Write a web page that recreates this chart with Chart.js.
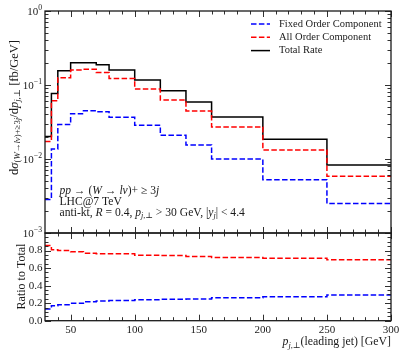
<!DOCTYPE html>
<html><head><meta charset="utf-8">
<script src="https://cdn.jsdelivr.net/npm/chart.js@4.4.1/dist/chart.umd.min.js"></script>
<style>
html,body{margin:0;padding:0;background:#fff;}
#wrap{position:relative;width:407px;height:356px;overflow:hidden;background:#fff;}
canvas{position:absolute;left:0;}
</style></head><body>
<div id="wrap">
<canvas id="top" width="407" height="250" style="top:0"></canvas>
<canvas id="bot" width="407" height="143" style="top:213px"></canvas>
</div>
<script>
// ---------------- data ----------------
const binEdges   = [30,35,40,50,60,70,80,100,120,140,160,200,250,300];
const fixedOrder = [0.00283,0.0137,0.0292,0.0408,0.0450,0.0436,0.0366,0.0285,0.0209,0.0155,0.0100,0.00525,0.0025];
const allOrder   = [0.0173,0.0612,0.125,0.160,0.163,0.147,0.122,0.0883,0.0627,0.0445,0.0271,0.0132,0.00583];
const totalRate  = [0.0202,0.0765,0.156,0.200,0.200,0.188,0.160,0.117,0.0838,0.059,0.037,0.0185,0.0083];
const ratioFixed = [0.133,0.171,0.183,0.198,0.217,0.225,0.229,0.240,0.244,0.248,0.263,0.274,0.293];
const ratioAll   = [0.857,0.810,0.800,0.785,0.770,0.762,0.762,0.747,0.743,0.731,0.720,0.713,0.695];
const seriesNames = ['Fixed Order Component','All Order Component','Total Rate'];
const xMajorTicks = [50,100,150,200,250,300];
const logTicks = [0.001,0.01,0.1,1];
const ratioTicks = [0,0.2,0.4,0.6,0.8];

const FONT = '"Liberation Serif", "DejaVu Serif", serif';
const TXT = '#1a1a1a';
const BLUE = '#0000ff', RED = '#ff0000', BLACK = '#000000';

function steps(vals){
  return binEdges.map((e,i)=>({x:e, y: vals[Math.min(i, vals.length-1)]}));
}

// ---------- rich text helpers ----------
function segFont(s,size){
  const sz = (s.s||s.u) ? size*0.7 : size;
  return (s.i?'italic ':'') + sz.toFixed(2) + 'px ' + FONT;
}
function richWidth(ctx,segs,size){
  let w=0; for(const s of segs){ctx.font=segFont(s,size); w+=ctx.measureText(s.t).width;} return w;
}
function fitSize(ctx,segs,target,cap){ return Math.min(cap||13, Math.max(9, 11*target/richWidth(ctx,segs,11))); }
function drawRich(ctx,segs,x,y,size){
  let cx=x;
  ctx.textBaseline='alphabetic'; ctx.textAlign='left';
  for(const s of segs){
    ctx.font=segFont(s,size);
    const dy = s.s ? size*0.22 : (s.u ? -size*0.42 : 0);
    ctx.fillText(s.t,cx,y+dy);
    cx+=ctx.measureText(s.t).width;
  }
  return cx-x;
}

// --------- frame + inward ticks ----------
function frameTicks(cfg){
  return {id:'frameTicks', afterDatasetsDraw(chart){
    const ctx=chart.ctx, a=chart.chartArea, xs=chart.scales.x, ys=chart.scales.y;
    ctx.save(); ctx.strokeStyle=TXT; ctx.lineWidth=0.9;
    ctx.beginPath();
    const addX=(v,len)=>{const p=Math.round(xs.getPixelForValue(v))+0.5;
      ctx.moveTo(p,a.bottom); ctx.lineTo(p,a.bottom-len); ctx.moveTo(p,a.top); ctx.lineTo(p,a.top+len);};
    const addY=(v,len)=>{const p=Math.round(ys.getPixelForValue(v))+0.5;
      ctx.moveTo(a.left,p); ctx.lineTo(a.left+len,p); ctx.moveTo(a.right,p); ctx.lineTo(a.right-len,p);};
    cfg.xMajor.forEach(v=>addX(v,6)); cfg.xMinor.forEach(v=>addX(v,3.5));
    cfg.yMajor.forEach(v=>addY(v,6)); cfg.yMinor.forEach(v=>addY(v,3.5));
    ctx.stroke();
    ctx.lineWidth=1.3; ctx.strokeRect(a.left,a.top,a.width,a.height);
    ctx.restore();
  }};
}

const xMinorTicks=[]; for(let v=40; v<300; v+=10){ if(!xMajorTicks.includes(v)) xMinorTicks.push(v); }
const logMinor=[]; [-3,-2,-1].forEach(d=>{for(let m=2;m<=9;m++) logMinor.push(m*Math.pow(10,d));});
const ratioMajor=[0,0.2,0.4,0.6,0.8,1.0];
const ratioMinor=[]; for(let k=1;k<20;k++){ if(k%4) ratioMinor.push(k*0.05); }

// ---------- top chart decorations ----------
const yTitleTop=[{t:'d'},{t:'σ',i:1},{t:'(',s:1},{t:'W',s:1,i:1},{t:'→',s:1},{t:'lν',s:1,i:1},{t:')+≥3',s:1},{t:'j',s:1,i:1},
  {t:'/d'},{t:'p',i:1},{t:'j',s:1,i:1},{t:',⊥',s:1},{t:' [fb/GeV]'}];
const annot=[
  [{t:'pp',i:1},{t:' → ('},{t:'W',i:1},{t:' → '},{t:'lν',i:1},{t:')+ ≥ 3'},{t:'j',i:1}],
  [{t:'LHC@7 TeV'}],
  [{t:'anti-kt, '},{t:'R',i:1},{t:' = 0.4, '},{t:'p',i:1},{t:'j',i:1,s:1},{t:',⊥',s:1},{t:' > 30 GeV, |'},{t:'y',i:1},{t:'j',i:1,s:1},{t:'| < 4.4'}]
];
const topDeco={id:'topDeco', afterDraw(chart){
  const ctx=chart.ctx, ys=chart.scales.y, a=chart.chartArea;
  ctx.save(); ctx.fillStyle=TXT;
  // log tick labels
  ys.ticks.forEach(t=>{
    const e=Math.round(Math.log10(t.value));
    const segs=[{t:'10'},{t:(e<0?'−':'')+Math.abs(e),u:1}];
    const w=richWidth(ctx,segs,11);
    drawRich(ctx,segs,a.left-3-w,ys.getPixelForValue(t.value)+3.8,11);
  });
  // y title
  ctx.save();
  const ts=fitSize(ctx,yTitleTop,191,12.5);
  const w=richWidth(ctx,yTitleTop,ts);
  ctx.translate(17.5,107.5); ctx.rotate(-Math.PI/2);
  drawRich(ctx,yTitleTop,-w/2,0,ts);
  ctx.restore();
  // annotation
  const as=fitSize(ctx,annot[2],197,11.6);
  annot.forEach((l,i)=>drawRich(ctx,l,59.5,193.8+i*11,as));
  // legend
  chart.data.datasets.forEach((ds,i)=>{
    const y=24+i*13.3;
    ctx.save(); ctx.strokeStyle=ds.borderColor; ctx.lineWidth=ds.borderWidth; ctx.setLineDash(ds.borderDash||[]);
    ctx.beginPath(); ctx.moveTo(251,y); ctx.lineTo(270,y); ctx.stroke(); ctx.restore();
    ctx.font='10.5px '+FONT; ctx.textBaseline='middle'; ctx.textAlign='left';
    ctx.fillText(ds.label,279,y);
  });
  ctx.restore();
}};

const dash=[5.5,2.4];
new Chart(document.getElementById('top'),{
  type:'line',
  data:{datasets:[
    {label:seriesNames[0],data:steps(fixedOrder),borderColor:BLUE,borderWidth:1.5,borderDash:dash,stepped:'before',pointRadius:0,fill:false},
    {label:seriesNames[1],data:steps(allOrder),borderColor:RED,borderWidth:1.5,borderDash:dash,stepped:'before',pointRadius:0,fill:false},
    {label:seriesNames[2],data:steps(totalRate),borderColor:BLACK,borderWidth:1.5,stepped:'before',pointRadius:0,fill:false}
  ]},
  options:{responsive:false,animation:false,events:[],
    layout:{padding:{top:11,right:16,left:0,bottom:0}},
    plugins:{legend:{display:false},tooltip:{enabled:false}},
    scales:{
      x:{type:'linear',min:30,max:300,grid:{display:false,drawTicks:false},border:{display:false},ticks:{display:false},afterFit(s){s.height=17;}},
      y:{type:'logarithmic',min:0.001,max:1,grid:{display:false,drawTicks:false},border:{display:false},ticks:{display:false},
         afterBuildTicks(s){s.ticks=logTicks.map(v=>({value:v}));},afterFit(s){s.width=45;}}
    }
  },
  plugins:[frameTicks({xMajor:xMajorTicks,xMinor:xMinorTicks,yMajor:logTicks,yMinor:logMinor}),topDeco]
});

// ---------- bottom chart ----------
const xTitle=[{t:'p',i:1},{t:'j',i:1,s:1},{t:',⊥',s:1},{t:'(leading jet) [GeV]'}];
const botDeco={id:'botDeco', afterDraw(chart){
  const ctx=chart.ctx;
  ctx.save(); ctx.fillStyle=TXT;
  const xs=fitSize(ctx,xTitle,110,11.8);
  const w=richWidth(ctx,xTitle,xs);
  drawRich(ctx,xTitle,391-w,132,xs);
  ctx.font='12px '+FONT; ctx.textAlign='center'; ctx.textBaseline='alphabetic';
  ctx.translate(24.5,276.5-213); ctx.rotate(-Math.PI/2);
  ctx.fillText('Ratio to Total',0,0);
  ctx.restore();
}};
new Chart(document.getElementById('bot'),{
  type:'line',
  data:{datasets:[
    {label:seriesNames[0],data:steps(ratioFixed),borderColor:BLUE,borderWidth:1.5,borderDash:dash,stepped:'before',pointRadius:0,fill:false},
    {label:seriesNames[1],data:steps(ratioAll),borderColor:RED,borderWidth:1.5,borderDash:dash,stepped:'before',pointRadius:0,fill:false}
  ]},
  options:{responsive:false,animation:false,events:[],
    layout:{padding:{top:20,right:16,left:0,bottom:0}},
    plugins:{legend:{display:false},tooltip:{enabled:false}},
    scales:{
      x:{type:'linear',min:30,max:300,grid:{display:false,drawTicks:false},border:{display:false},
         ticks:{font:{family:FONT,size:11},color:TXT,padding:3,maxRotation:0,autoSkip:false},
         afterBuildTicks(s){s.ticks=xMajorTicks.map(v=>({value:v}));},afterFit(s){s.height=35.3;}},
      y:{type:'linear',min:0,max:1,grid:{display:false,drawTicks:false},border:{display:false},
         ticks:{font:{family:FONT,size:11},color:TXT,padding:2.5,callback:v=>v.toFixed(1)},
         afterBuildTicks(s){s.ticks=ratioTicks.map(v=>({value:v}));},afterFit(s){s.width=45;}}
    }
  },
  plugins:[frameTicks({xMajor:xMajorTicks,xMinor:xMinorTicks,yMajor:ratioMajor,yMinor:ratioMinor}),botDeco]
});
</script>
</body></html>
